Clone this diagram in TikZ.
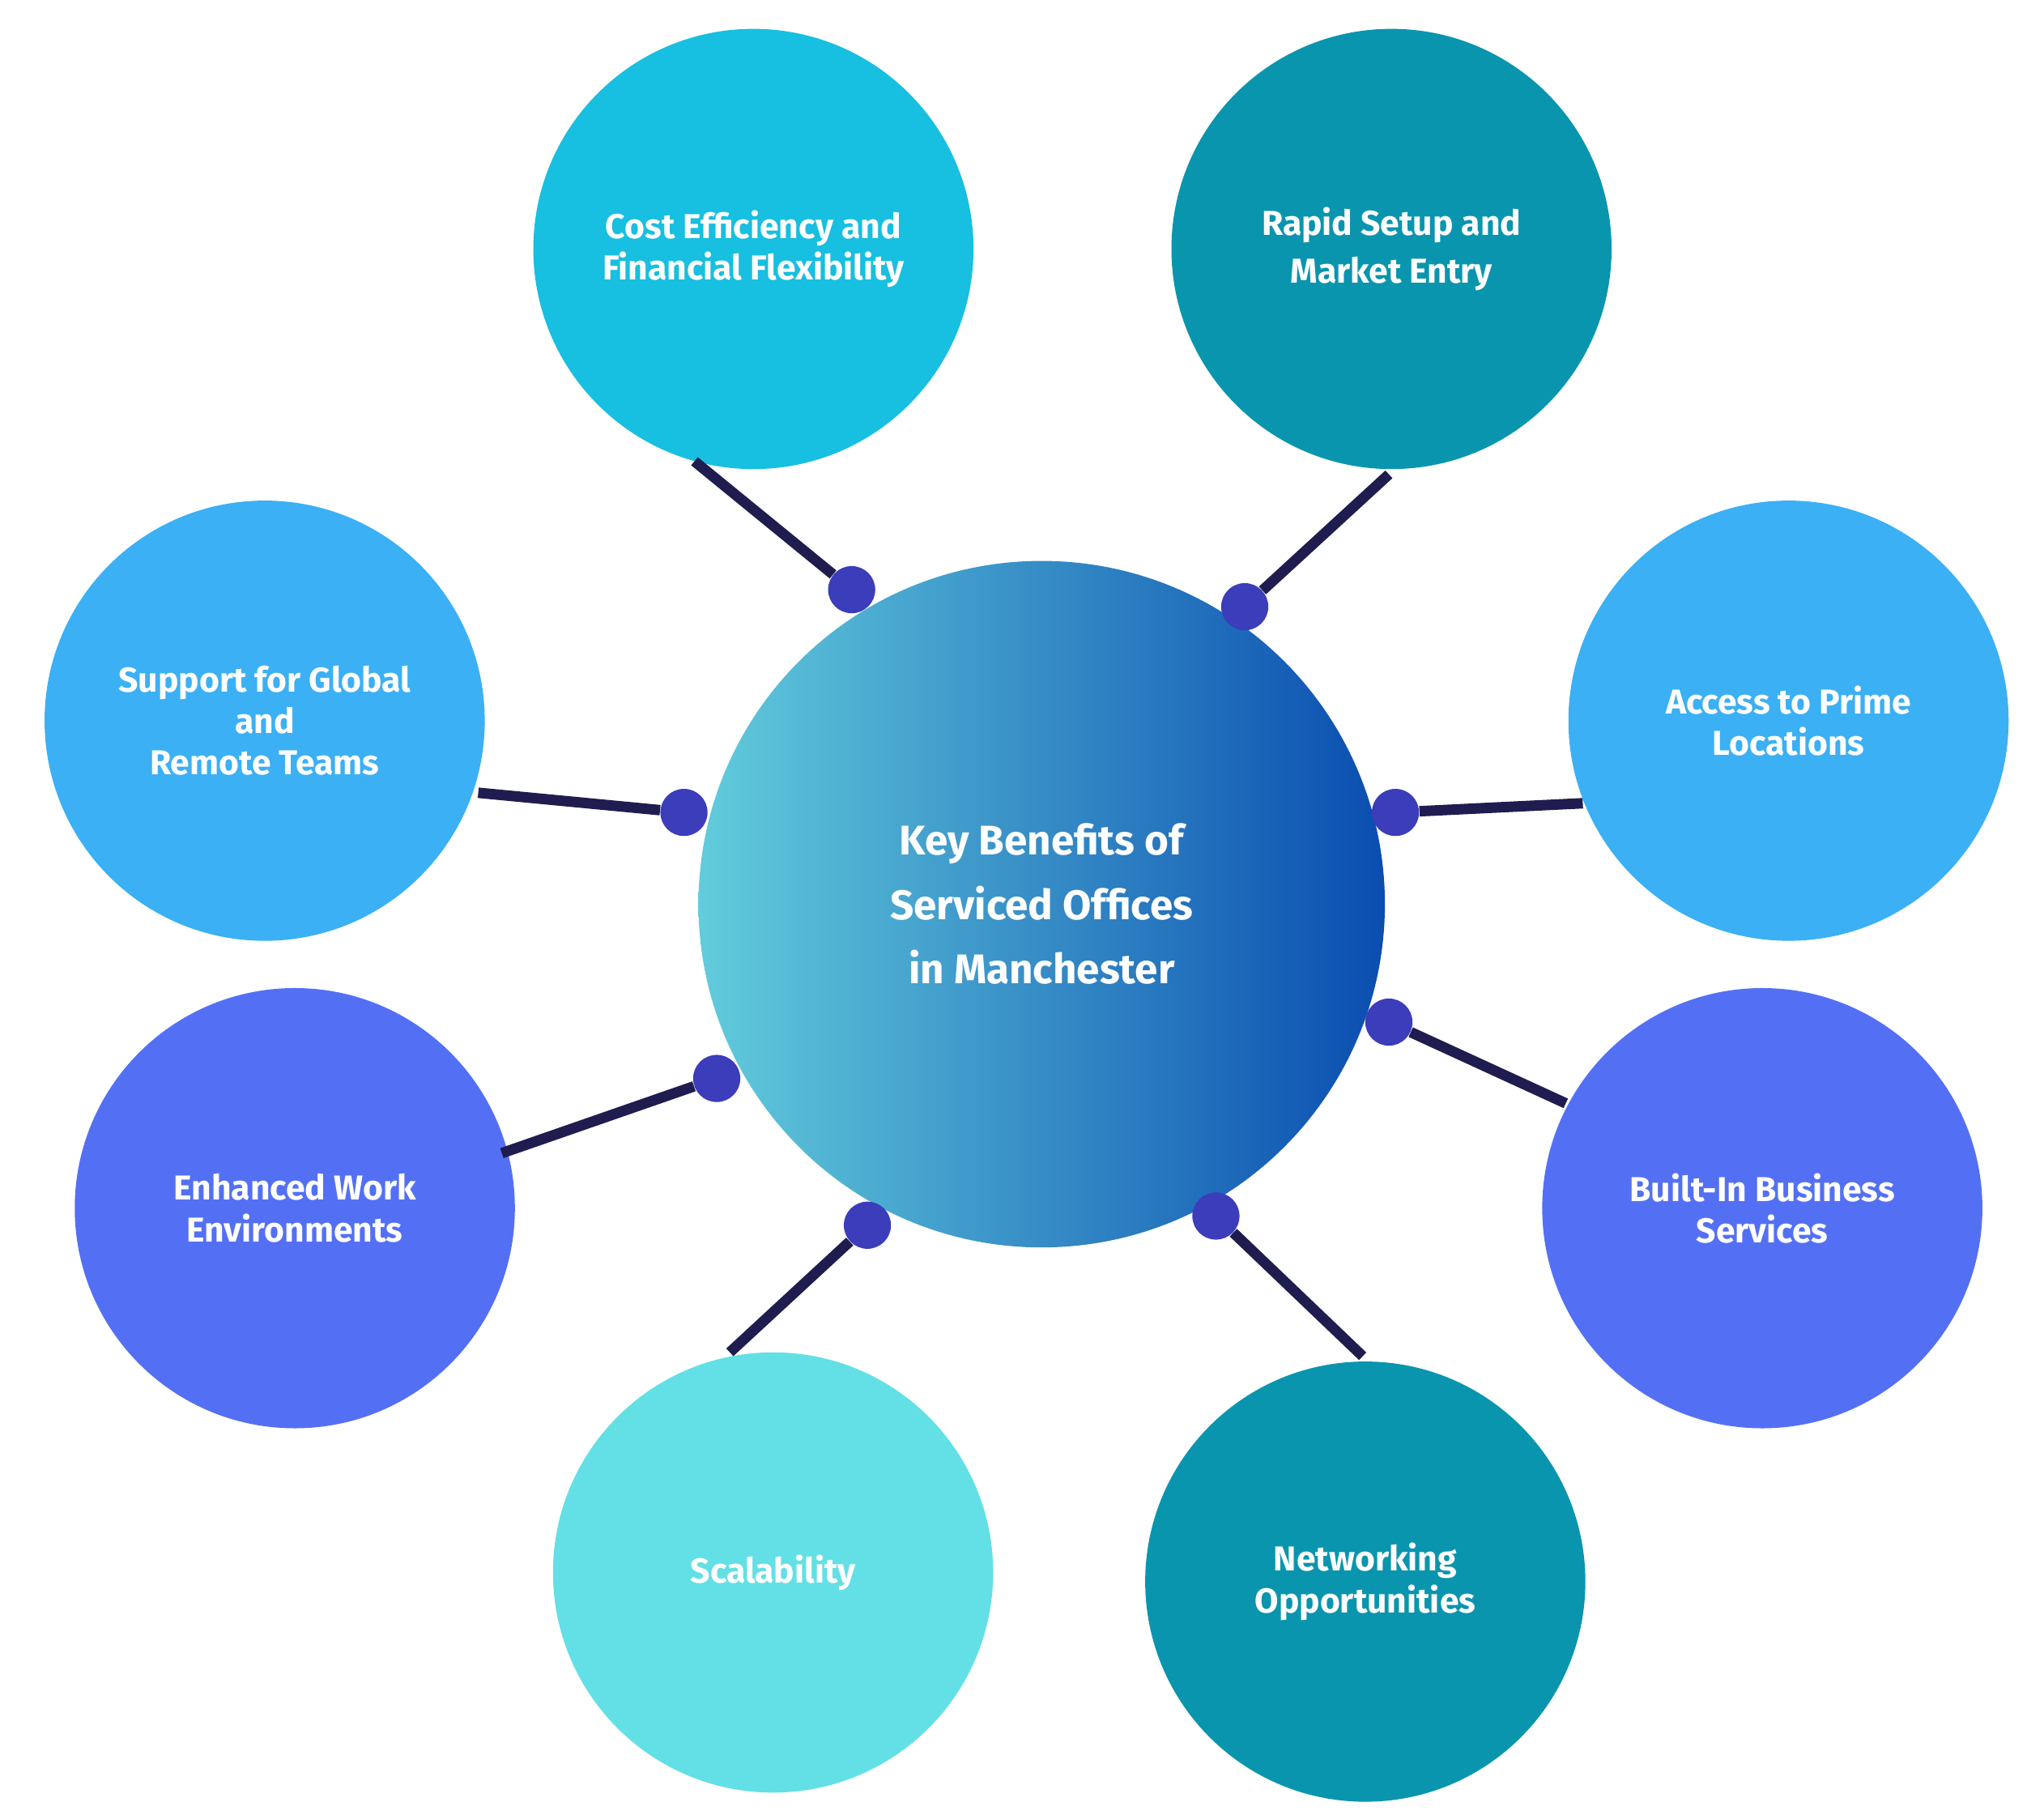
\documentclass[tikz,border=0pt]{standalone}
\usepackage{fontspec}
\setmainfont{Fira Sans}
\usetikzlibrary{calc}
\definecolor{cyanA}{HTML}{17BFE0}
\definecolor{tealA}{HTML}{0A95AE}
\definecolor{skyA}{HTML}{3BB0F5}
\definecolor{blueA}{HTML}{5370F5}
\definecolor{aquaA}{HTML}{62E0E6}
\definecolor{dotA}{HTML}{3B3DBA}
\definecolor{lineA}{HTML}{1F1D4F}
\begin{document}
\begin{tikzpicture}[x=0.02cm, y=-0.02cm,
    bubble/.style={circle, minimum size=6.72cm, inner sep=0pt, text=white,
      align=center, font=\fontsize{15}{18}\selectfont\bfseries},
    hub/.style={circle, minimum size=10.48cm, inner sep=0pt, text=white,
      align=center, left color=cyan!45!teal!70!white, right color=blue!60!black,
      font=\fontsize{18}{28}\selectfont\bfseries},
    pin/.style={circle, fill=dotA, minimum size=0.72cm, inner sep=0pt},
    link/.style={lineA, line width=1.6mm}
]
\useasboundingbox (0,0) rectangle (1560,1385);

% Centre
\node[hub, left color={rgb,255:red,98;green,204;blue,220}, right color={rgb,255:red,10;green,77;blue,176}] (K) at (795,690)
  {Key Benefits of\\Serviced Offices\\in Manchester};

% Benefits
\node[bubble, fill=cyanA] (C) at (575,190) {Cost Efficiency and\\Financial Flexibility};
\node[bubble, fill=tealA] (R) at (1062,190) {Rapid Setup and\\[3pt]Market Entry};
\node[bubble, fill=skyA] (G) at (202,550) {Support for Global\\and\\Remote Teams};
\node[bubble, fill=skyA] (P) at (1365,550) {Access to Prime\\Locations};
\node[bubble, fill=blueA] (E) at (225,922) {Enhanced Work\\Environments};
\node[bubble, fill=blueA] (B) at (1345,922) {Built-In Business\\Services};
\node[bubble, fill=aquaA] (S) at (590,1200) {Scalability};
\node[bubble, fill=tealA] (N) at (1042,1207) {Networking\\Opportunities};

% Line ends on the outer circles
\coordinate (eC) at (530,352);
\coordinate (eR) at (1060,362);
\coordinate (eG) at (365,605);
\coordinate (eP) at (1208,613);
\coordinate (eE) at (383,880);
\coordinate (eB) at (1195,842);
\coordinate (eS) at (557,1032);
\coordinate (eN) at (1040,1035);

% Pins on the centre circle
\node[pin] (dC) at (650,450) {};
\node[pin] (dR) at (950,463) {};
\node[pin] (dG) at (522,620) {};
\node[pin] (dP) at (1065,620) {};
\node[pin] (dE) at (547,823) {};
\node[pin] (dB) at (1060,780) {};
\node[pin] (dS) at (662,935) {};
\node[pin] (dN) at (928,928) {};

% Connectors
\foreach \k in {C,R,G,P,E,B,S,N}
  \draw[link] (d\k) -- (e\k);
\end{tikzpicture}
\end{document}
